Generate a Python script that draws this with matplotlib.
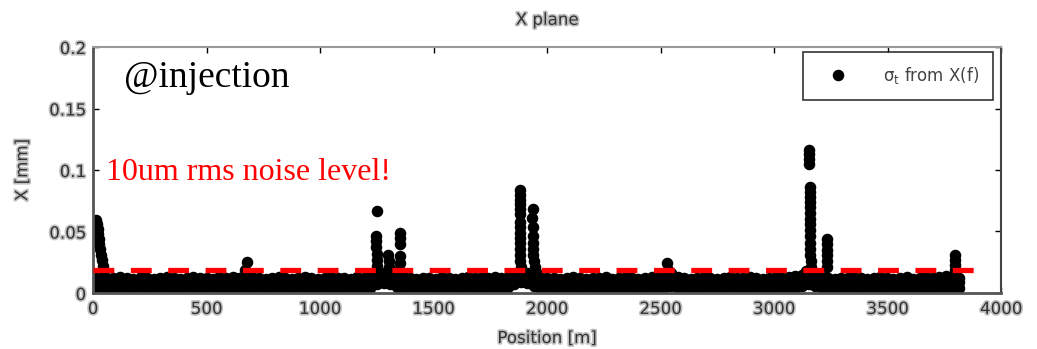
import numpy as np
import matplotlib
matplotlib.use("Agg")
import matplotlib.pyplot as plt
import matplotlib.patheffects as pe

# ---- BPM positions [m] and sigma_t values [mm] along the ring ----
bpm_pos = [5, 35, 62, 90, 121, 150, 178, 210, 238, 268,
           297, 325, 356, 384, 413, 442, 470, 500, 528, 557,
           586, 615, 645, 672, 702, 730, 760, 788, 818, 846,
           875, 905, 933, 962, 990, 1020, 1049, 1078, 1106, 1136,
           1164, 1193, 1222, 1250, 1280, 1308, 1337, 1366, 1395, 1424,
           1452, 1481, 1510, 1539, 1568, 1596, 1625, 1654, 1683, 1712,
           1740, 1770, 1798, 1827, 1856, 1885, 1914, 1942, 1971, 2000,
           2029, 2058, 2086, 2115, 2144, 2173, 2202, 2230, 2259, 2288,
           2317, 2346, 2374, 2403, 2432, 2461, 2490, 2518, 2547, 2576,
           2605, 2634, 2662, 2691, 2720, 2749, 2778, 2806, 2835, 2864,
           2893, 2922, 2950, 2979, 3008, 3037, 3066, 3094, 3123, 3152,
           3181, 3210, 3238, 3267, 3296, 3325, 3354, 3382, 3411, 3440,
           3469, 3498, 3526, 3555, 3584, 3613, 3642, 3670, 3699, 3728,
           3757, 3786, 3815]

sig_hi = [.013, .012, .011, .012, .013, .012, .011, .013, .012, .011,
          .012, .013, .012, .011, .012, .013, .012, .012, .011, .013,
          .012, .013, .012, .014, .013, .012, .011, .012, .013, .012,
          .011, .012, .013, .012, .011, .012, .013, .012, .012, .011,
          .013, .012, .014, .015, .016, .017, .016, .014, .012, .011,
          .012, .012, .011, .013, .012, .011, .012, .013, .012, .013,
          .012, .013, .012, .013, .015, .018, .016, .015, .013, .012,
          .012, .011, .012, .013, .012, .011, .012, .012, .013, .011,
          .012, .013, .012, .011, .012, .013, .012, .014, .016, .013,
          .012, .011, .012, .013, .012, .011, .012, .013, .012, .012,
          .013, .012, .011, .012, .013, .012, .013, .014, .015, .017,
          .015, .013, .012, .011, .012, .012, .013, .012, .011, .012,
          .013, .012, .011, .012, .013, .011, .012, .013, .012, .013,
          .014, .013, .012]

sig_mid = [.009, .008, .009, .008, .007, .009, .008, .009, .008, .007,
           .008, .009, .008, .007, .008, .009, .008, .007, .009, .008,
           .009, .008, .007, .009, .008, .009, .008, .007, .009, .008,
           .008, .009, .007, .008, .009, .008, .007, .009, .008, .009,
           .008, .009, .008, .010, .011, .010, .009, .008, .008, .009,
           .008, .007, .009, .008, .009, .008, .007, .009, .008, .009,
           .008, .009, .008, .009, .010, .012, .011, .010, .009, .008,
           .009, .008, .007, .009, .008, .009, .008, .007, .009, .008,
           .009, .008, .009, .007, .008, .009, .008, .009, .010, .009,
           .008, .009, .008, .007, .009, .008, .009, .008, .007, .009,
           .008, .009, .008, .009, .008, .009, .008, .009, .010, .012,
           .010, .009, .008, .007, .008, .009, .008, .009, .008, .007,
           .009, .008, .009, .008, .007, .008, .009, .008, .009, .008,
           .009, .008, .009]

sig_lo = [.004, .005, .003, .004, .005, .004, .003, .005, .004, .004,
          .005, .004, .003, .004, .005, .004, .004, .003, .005, .004,
          .004, .003, .005, .004, .004, .005, .003, .004, .005, .004,
          .004, .005, .004, .003, .004, .005, .004, .004, .003, .005,
          .004, .005, .004, .007, .008, .007, .005, .001, .004, .005,
          .004, .005, .003, .004, .005, .004, .004, .005, .003, .004,
          .004, .005, .004, .005, .007, .009, .008, .006, .004, .005,
          .004, .003, .005, .004, .004, .005, .004, .003, .005, .004,
          .004, .005, .004, .003, .004, .005, .004, .005, .006, .004,
          .005, .004, .003, .004, .005, .004, .004, .005, .003, .004,
          .004, .005, .004, .003, .005, .004, .005, .004, .006, .007,
          .006, .004, .003, .002, .004, .005, .004, .003, .004, .005,
          .004, .003, .005, .004, .004, .005, .004, .003, .004, .005,
          .004, .005, .004]

# large-sigma readings near the hot spots
peak_pos = [15, 18, 20, 22, 25, 28, 30, 35, 40, 45, 50,
            678, 670,
            1251, 1245, 1245, 1248, 1250, 1252, 1250,
            1300, 1305, 1302, 1306,
            1352, 1352, 1352, 1354, 1354, 1350,
            1881, 1881, 1881, 1882, 1880, 1881, 1882, 1880, 1881, 1880,
            1881, 1882, 1880, 1882, 1884,
            1938, 1936, 1938, 1937, 1938, 1938, 1940, 1942, 1945, 1950,
            2528, 2535,
            3155, 3155, 3155, 3155, 3157, 3157, 3158, 3158, 3157, 3158,
            3158, 3158, 3159, 3158, 3159, 3160, 3160, 3162, 3164, 3140,
            3233, 3233, 3234, 3233, 3235, 3234,
            3797, 3797, 3798, 3798, 3800, 3802]
peak_sig = [.059, .056, .052, .048, .044, .040, .036, .031, .027, .022, .018,
            .025, .019,
            .067, .046, .042, .037, .032, .027, .022,
            .031, .026, .021, .016,
            .049, .045, .040, .030, .024, .019,
            .084, .080, .076, .072, .068, .064, .058, .054, .049, .045,
            .041, .036, .031, .026, .021,
            .068, .061, .054, .046, .041, .036, .031, .026, .021, .017,
            .024, .019,
            .116, .113, .109, .105, .086, .082, .078, .074, .070, .065,
            .060, .056, .051, .046, .041, .036, .031, .026, .021, .018,
            .044, .040, .035, .031, .026, .021,
            .031, .027, .023, .019, .015, .011]

noise_x = [0, 3890]
noise_level = [0.019, 0.019]

xticks = [0, 500, 1000, 1500, 2000, 2500, 3000, 3500, 4000]
yticks = [0, 0.05, 0.1, 0.15, 0.2]
ytick_labels = ["0", "0.05", "0.1", "0.15", "0.2"]

# ---- figure ----
plt.rcParams["lines.scale_dashes"] = False
plt.rcParams["mathtext.default"] = "regular"
fig = plt.figure(figsize=(10.37, 3.49), dpi=100)
ax = fig.add_axes([0.0897, 0.1605, 0.8756, 0.7048])

halo = [pe.withStroke(linewidth=2.4, foreground="#c0c0c0")]
grey = "#333333"

xs = np.concatenate([bpm_pos, bpm_pos, bpm_pos, peak_pos])
ys = np.concatenate([sig_lo, sig_mid, sig_hi, peak_sig])
ax.plot(xs, ys, "o", color="black", markersize=7.3, linestyle="none",
        label=r"$\sigma_t$ from X(f)")

ax.plot(noise_x, noise_level, color="red", linewidth=3.8,
        dashes=(15, 11.9), zorder=3)

ax.set_xlim(0, 4000)
ax.set_ylim(0, 0.2)
ax.set_xticks(xticks)
ax.set_yticks(yticks)
ax.set_yticklabels(ytick_labels)
ax.tick_params(direction="in", length=4.5, width=1, top=True, right=True,
               labelsize=12, labelcolor=grey, pad=5)
for lab in ax.get_xticklabels() + ax.get_yticklabels():
    lab.set_path_effects(halo)

for side in ["left", "bottom"]:
    ax.spines[side].set_color("#555555")
    ax.spines[side].set_linewidth(2)
ax.spines["top"].set_color("#999999")
ax.spines["right"].set_color("#444444")
ax.spines["top"].set_linewidth(1.5)
ax.spines["right"].set_linewidth(1.5)

ax.set_title("X plane", fontsize=12, color=grey, pad=16, path_effects=halo)
ax.set_xlabel("Position [m]", fontsize=12, color=grey, labelpad=8, path_effects=halo)
ax.set_ylabel("X [mm]", fontsize=12, color=grey, labelpad=13, path_effects=halo)

leg = ax.legend(loc="upper right", bbox_to_anchor=(0.991, 0.98),
                fontsize=12, frameon=True, fancybox=False,
                borderpad=0.8, handlelength=2.6, handletextpad=1.4,
                borderaxespad=0)
leg.get_frame().set_edgecolor("black")
leg.get_frame().set_linewidth(1.2)
for t in leg.get_texts():
    t.set_color("#444444")

ax.text(0.034, 0.874, "@injection", transform=ax.transAxes,
        fontfamily="Liberation Serif", fontsize=27, color="black", va="center")
ax.text(0.014, 0.49, "10um rms noise level!", transform=ax.transAxes,
        fontfamily="Liberation Serif", fontsize=23, color="red", va="center")

fig.savefig("out.png", dpi=100)
